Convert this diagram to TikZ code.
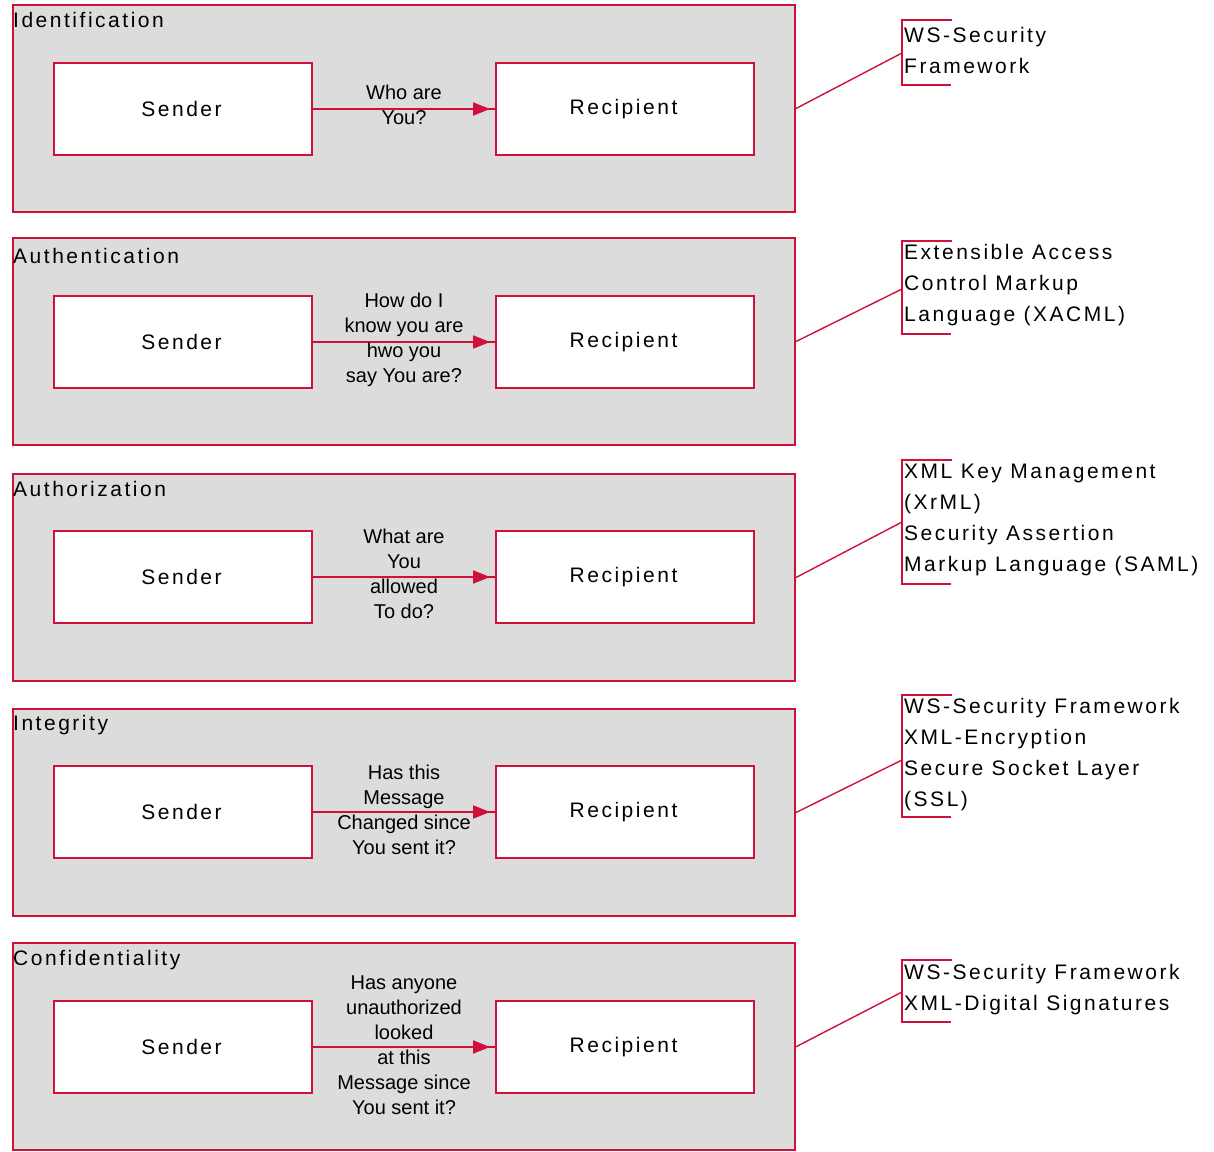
\documentclass[tikz,border=0pt]{standalone}
\usepackage{fontspec}
\setmainfont{Liberation Sans}
\newfontfamily\widefont[LetterSpace=12]{Liberation Sans}
\usetikzlibrary{arrows.meta}
\definecolor{crim}{HTML}{D0103A}
\definecolor{panelgray}{HTML}{DCDCDC}

\begin{document}
\begin{tikzpicture}[x=1pt,y=-1pt,
  panel/.style={draw=crim,line width=2pt,fill=panelgray,minimum width=782pt,minimum height=207pt,inner sep=0pt},
  title/.style={anchor=west,inner sep=0pt,font={\widefont\fontsize{21}{24}\selectfont}},
  party/.style={draw=crim,line width=2pt,fill=white,minimum width=258pt,minimum height=92pt,inner sep=0pt,font={\widefont\fontsize{21}{24}\selectfont}},
  question/.style={align=center,inner sep=0pt,font={\fontsize{20}{25}\selectfont}},
  flow/.style={draw=crim,line width=2pt},
  flowtip/.style={draw=crim,fill=crim,line width=2pt,-{Triangle[length=17pt,width=13pt]},shorten >=5pt},
  note/.style={anchor=west,align=left,inner sep=0pt,font={\widefont\fontsize{21}{31}\selectfont}},
  bracket/.style={draw=crim,line width=1.8pt},
  link/.style={draw=crim,line width=1.4pt}]

\useasboundingbox (0,0) rectangle (1214,1151);

% ---- Identification ----
\node[panel] (p1) at (404,108.5) {};
\node[title] (t1) at (13,20) {Identification};
\node[party] (s1) at (183,109) {\hspace*{-3pt}Sender};
\node[party] (r1) at (625,109) {\hspace*{-3pt}Recipient};
\draw[flow] (s1.east) -- (r1.west);
\draw[flowtip] (s1.east) -- (r1.west);
\node[question] (q1) at (404,105) {Who are\\You?};
\node[note] (n1) at (904,50.5) {WS-Security\\Framework};
\coordinate (b1) at (902,53);
\draw[bracket] (952,20) -- (902,20) -- (902,85) -- (951,85);
\draw[link] (p1.east) -- (b1);

% ---- Authentication ----
\node[panel] (p2) at (404,341.5) {};
\node[title] (t2) at (13,256) {Authentication};
\node[party] (s2) at (183,342) {\hspace*{-3pt}Sender};
\node[party] (r2) at (625,342) {\hspace*{-3pt}Recipient};
\draw[flow] (s2.east) -- (r2.west);
\draw[flowtip] (s2.east) -- (r2.west);
\node[question] (q2) at (404,340) {How do I\\know you are\\hwo you\\say You are?};
\node[note] (n2) at (904,285.5) {Extensible Access\\Control Markup\\Language (XACML)};
\coordinate (b2) at (902,289);
\draw[bracket] (952,241) -- (902,241) -- (902,334) -- (951,334);
\draw[link] (p2.east) -- (b2);

% ---- Authorization ----
\node[panel] (p3) at (404,577.5) {};
\node[title] (t3) at (13,489) {Authorization};
\node[party] (s3) at (183,577) {\hspace*{-3pt}Sender};
\node[party] (r3) at (625,577) {\hspace*{-3pt}Recipient};
\draw[flow] (s3.east) -- (r3.west);
\draw[flowtip] (s3.east) -- (r3.west);
\node[question] (q3) at (404,574) {What are\\You\\allowed\\To do?};
\node[note] (n3) at (904,520) {XML Key Management\\(XrML)\\Security Assertion\\Markup Language (SAML)};
\coordinate (b3) at (902,522);
\draw[bracket] (952,460) -- (902,460) -- (902,584) -- (951,584);
\draw[link] (p3.east) -- (b3);

% ---- Integrity ----
\node[panel] (p4) at (404,812.5) {};
\node[title] (t4) at (13,725) {Integrity};
\node[party] (s4) at (183,812) {\hspace*{-3pt}Sender};
\node[party] (r4) at (625,812) {\hspace*{-3pt}Recipient};
\draw[flow] (s4.east) -- (r4.west);
\draw[flowtip] (s4.east) -- (r4.west);
\node[question] (q4) at (404,810) {Has this\\Message\\Changed since\\You sent it?};
\node[note] (n4) at (904,754.5) {WS-Security Framework\\XML-Encryption\\Secure Socket Layer\\(SSL)};
\coordinate (b4) at (902,760);
\draw[bracket] (952,695) -- (902,695) -- (902,817) -- (951,817);
\draw[link] (p4.east) -- (b4);

% ---- Confidentiality ----
\node[panel] (p5) at (404,1046.75) {};
\node[title] (t5) at (13,960) {Confidentiality};
\node[party] (s5) at (183,1047) {\hspace*{-3pt}Sender};
\node[party] (r5) at (625,1047) {\hspace*{-3pt}Recipient};
\draw[flow] (s5.east) -- (r5.west);
\draw[flowtip] (s5.east) -- (r5.west);
\node[question] (q5) at (404,1045) {Has anyone\\unauthorized\\looked\\at this\\Message since\\You sent it?};
\node[note] (n5) at (904,989.5) {WS-Security Framework\\XML-Digital Signatures};
\coordinate (b5) at (902,992);
\draw[bracket] (952,960) -- (902,960) -- (902,1022) -- (951,1022);
\draw[link] (p5.east) -- (b5);

\end{tikzpicture}
\end{document}
